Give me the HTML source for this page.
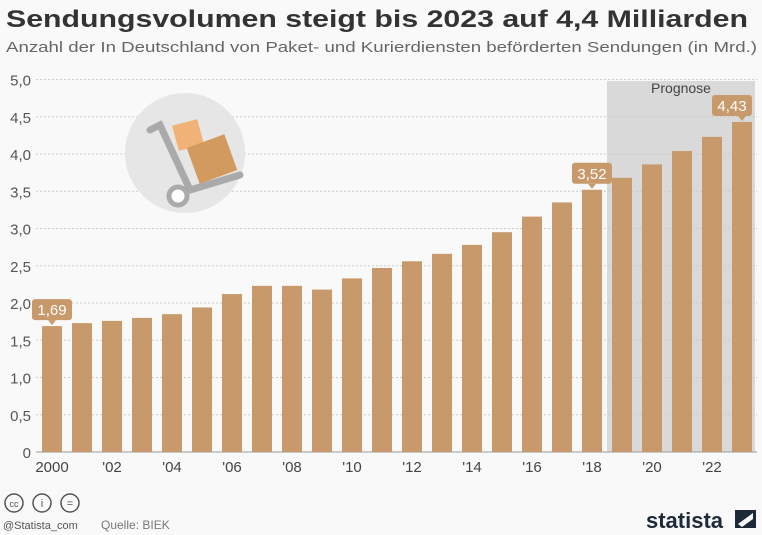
<!DOCTYPE html>
<html><head><meta charset="utf-8"><style>
body{margin:0;background:#f9f9f9;font-family:"Liberation Sans",sans-serif;}
#wrap{position:relative;width:762px;height:535px;overflow:hidden;background:#f9f9f9;}
</style></head><body>
<div id="wrap">
<svg id="svg" width="762" height="535" xmlns="http://www.w3.org/2000/svg">
<text x="6" y="27" font-size="24" font-weight="bold" fill="#333" textLength="742" lengthAdjust="spacingAndGlyphs">Sendungsvolumen steigt bis 2023 auf 4,4 Milliarden</text>
<text x="6" y="52" font-size="15" fill="#666" textLength="751" lengthAdjust="spacingAndGlyphs">Anzahl der In Deutschland von Paket- und Kurierdiensten beförderten Sendungen (in Mrd.)</text>
<rect x="607" y="81" width="148" height="371" fill="#d9d9d9"/>
<text x="681" y="93" font-size="14" fill="#444" text-anchor="middle">Prognose</text>
<g id="grid"></g>
<g id="bars"></g>
<g id="xlabels"></g>
<g>
<circle cx="185" cy="153" r="60" fill="#e6e6e6"/>
<rect x="175" y="122" width="26" height="26" fill="#f0b276" transform="rotate(-15 188 135)"/>
<rect x="192" y="140" width="40" height="38" fill="#d39a5f" transform="rotate(-20 212 159)"/>
<path d="M150 130 L160 125 L190 190 L240 175" stroke="#aaa" stroke-width="7" fill="none" stroke-linecap="round"/>
<circle cx="178" cy="196" r="9" fill="#fff" stroke="#aaa" stroke-width="5"/>
</g>
<g>
<circle cx="14" cy="503" r="9" fill="none" stroke="#555" stroke-width="1.5"/><text x="14" y="507" font-size="9" text-anchor="middle" fill="#555">cc</text>
<circle cx="42" cy="503" r="9" fill="none" stroke="#555" stroke-width="1.5"/><text x="42" y="507" font-size="11" text-anchor="middle" fill="#555">i</text>
<circle cx="70" cy="503" r="9" fill="none" stroke="#555" stroke-width="1.5"/><text x="70" y="507" font-size="11" text-anchor="middle" fill="#555">=</text>
<text x="3" y="529" font-size="11" fill="#555">@Statista_com</text>
<text x="101" y="529" font-size="12" fill="#777">Quelle: BIEK</text>
<text x="646" y="528" font-size="22" font-weight="bold" fill="#1e2a3a">statista</text>
<polygon points="735,510 756,510 756,528 735,528" fill="#1e2a3a"/>
<polygon points="738,524 753,513 753,519 742,527" fill="#f9f9f9"/>
</g>
</svg>
</div>
<script>
const years=["2000","2001","2002","2003","2004","2005","2006","2007","2008","2009","2010","2011","2012","2013","2014","2015","2016","2017","2018","2019","2020","2021","2022","2023"];
const values=[1.69,1.73,1.76,1.80,1.85,1.94,2.12,2.23,2.23,2.18,2.33,2.47,2.56,2.66,2.78,2.95,3.16,3.35,3.52,3.68,3.86,4.04,4.23,4.43];
const yTicks=[0,0.5,1,1.5,2,2.5,3,3.5,4,4.5,5];
const yTickLabels=["0","0,5","1,0","1,5","2,0","2,5","3,0","3,5","4,0","4,5","5,0"];
const xTickLabels=["2000","","'02","","'04","","'06","","'08","","'10","","'12","","'14","","'16","","'18","","'20","","'22",""];
const callouts={0:"1,69",18:"3,52",23:"4,43"};
const NS="http://www.w3.org/2000/svg";
const y=v=>452-74.5*v;
const x=i=>42+30*i;
const bw=20;
function mk(t,a,p){const e=document.createElementNS(NS,t);for(const k in a)e.setAttribute(k,a[k]);p.appendChild(e);return e;}
const grid=document.getElementById('grid'),bars=document.getElementById('bars'),xl=document.getElementById('xlabels');
yTicks.forEach((t,i)=>{
 if(t>0){const l=mk('line',{x1:36,x2:757,y1:y(t),y2:y(t),stroke:'#ccc','stroke-dasharray':'2,2'},grid);
 
 }
 const tx=mk('text',{x:31,y:y(t)+6,'font-size':15,fill:'#555','text-anchor':'end'},grid);tx.textContent=yTickLabels[i];
 
 
});
const ax=mk('line',{x1:36,x2:757,y1:452,y2:452,stroke:'#999','stroke-width':1},grid);


values.forEach((v,i)=>{
 const r=mk('rect',{x:x(i),y:y(v),width:bw,height:452-y(v),fill:'#c8996a'},bars);
 
 
 if(xTickLabels[i]){const t=mk('text',{x:x(i)+bw/2,y:472,'font-size':15,fill:'#444','text-anchor':'middle'},xl);t.textContent=xTickLabels[i];
 
 }
 if(callouts[i]){const cx=x(i)+bw/2,ty=y(v)-6;
 const bx=Math.min(cx-20,752-40);
 const g=mk('g',{},bars);
 
 
 mk('rect',{x:bx,y:ty-21,width:40,height:21,rx:3,fill:'#c8996a'},g);
 mk('polygon',{points:`${cx-4},${ty} ${cx+4},${ty} ${cx},${ty+5}`,fill:'#c8996a'},g);
 const t=mk('text',{x:bx+20,y:ty-5,'font-size':15,fill:'#fff','text-anchor':'middle'},g);t.textContent=callouts[i];}
});
</script>
</body></html>
